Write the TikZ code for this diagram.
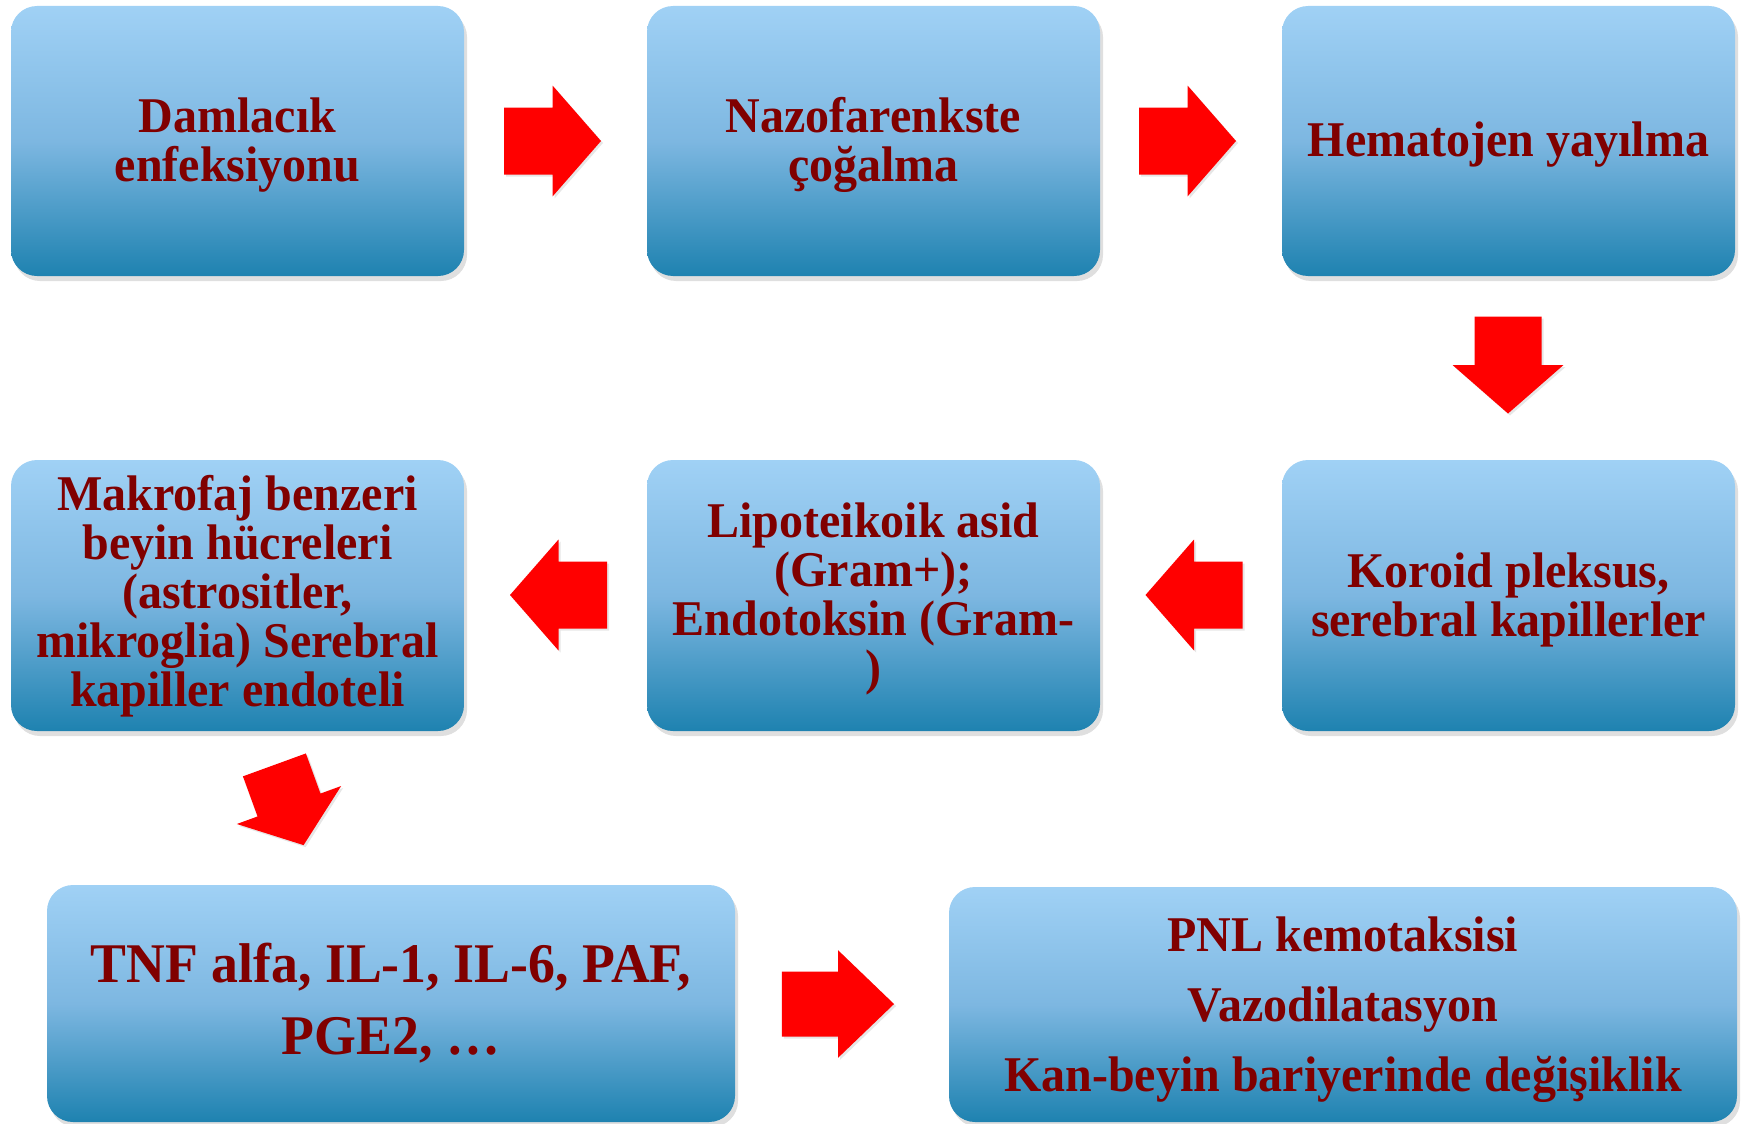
\documentclass[tikz,border=0pt]{standalone}
\usepackage{fontspec}
\setmainfont{Liberation Serif}[FakeStretch=0.96]
\usetikzlibrary{shadows}
\definecolor{boxtop}{RGB}{160,209,245}
\definecolor{boxmid}{RGB}{125,183,225}
\definecolor{boxbot}{RGB}{30,130,176}
\definecolor{txtred}{RGB}{128,0,0}
\definecolor{arrowred}{RGB}{255,0,0}
\tikzset{
  flowbox/.style={rounded corners=26pt, top color=boxtop, bottom color=boxbot, middle color=boxmid,
    draw=none, inner sep=0pt,
    drop shadow={shadow xshift=3pt, shadow yshift=-5pt, opacity=0.25}},
  boxtext/.style={align=center, text=txtred, inner sep=0pt,
    font=\bfseries\fontsize{50}{49}\selectfont},
  redarrow/.style={fill=arrowred, draw=none,
    drop shadow={shadow xshift=2pt, shadow yshift=-2pt, opacity=0.2}},
  barrow/.pic={\path[redarrow] (-48.5,-33.5) -- (0,-33.5) -- (0,-55.5) -- (48.5,0)
      -- (0,55.5) -- (0,33.5) -- (-48.5,33.5) -- cycle;}
}
\begin{document}
\begin{tikzpicture}[x=1pt,y=-1pt]
\useasboundingbox (0,0) rectangle (1745,1124);
% row 1
\node[flowbox, minimum width=453pt, minimum height=270pt] (b1) at (237.5,141) {};
\node[boxtext] (t1) at ([yshift=-4pt]b1.center) {Damlacık\\enfeksiyonu};
\node[flowbox, minimum width=453pt, minimum height=270pt] (b2) at (873.5,141) {};
\node[boxtext] (t2) at ([yshift=-4pt]b2.center) {Nazofarenkste\\çoğalma};
\node[flowbox, minimum width=453pt, minimum height=270pt] (b3) at (1508.5,141) {};
\node[boxtext] (t3) at ([yshift=-4pt]b3.center) {Hematojen yayılma};
% row 2
\node[flowbox, minimum width=453pt, minimum height=271pt] (b4) at (1508.5,595.5) {};
\node[boxtext] (t4) at ([yshift=-4pt]b4.center) {Koroid pleksus,\\serebral kapillerler};
\node[flowbox, minimum width=453pt, minimum height=271pt] (b5) at (873.5,595.5) {};
\node[boxtext] (t5) at ([yshift=-3pt]b5.center) {Lipoteikoik asid\\(Gram+);\\Endotoksin (Gram-\\)};
\node[flowbox, minimum width=453pt, minimum height=271pt] (b6) at (237.5,595.5) {};
\node[boxtext] (t6) at ([yshift=-1pt]b6.center) {Makrofaj benzeri\\beyin hücreleri\\(astrositler,\\mikroglia) Serebral\\kapiller endoteli};
% row 3
\node[flowbox, minimum width=688pt, minimum height=237pt] (b7) at (391,1003.5) {};
\node[boxtext, font=\bfseries\fontsize{56}{72}\selectfont] (t7) at ([yshift=0pt]b7.center) {TNF alfa, IL-1, IL-6, PAF,\\PGE2, …};
\node[flowbox, minimum width=788pt, minimum height=235pt] (b8) at (1343,1004.5) {};
\node[boxtext, font=\bfseries\fontsize{50}{70}\selectfont] (t8) at ([yshift=-5pt]b8.center) {PNL kemotaksisi\\Vazodilatasyon\\Kan-beyin bariyerinde değişiklik};
% arrows
\pic at (552.5,141) {barrow};
\pic at (1187.5,141) {barrow};
\pic[rotate=-90] at (1508,365) {barrow};
\pic[rotate=180] at (1194,595) {barrow};
\pic[rotate=180] at (558.5,595) {barrow};
\pic[rotate=-70, xscale=0.88] at (289,805) {barrow};
\pic[xscale=1.155, yscale=0.97] at (838,1004) {barrow};
\end{tikzpicture}
\end{document}
